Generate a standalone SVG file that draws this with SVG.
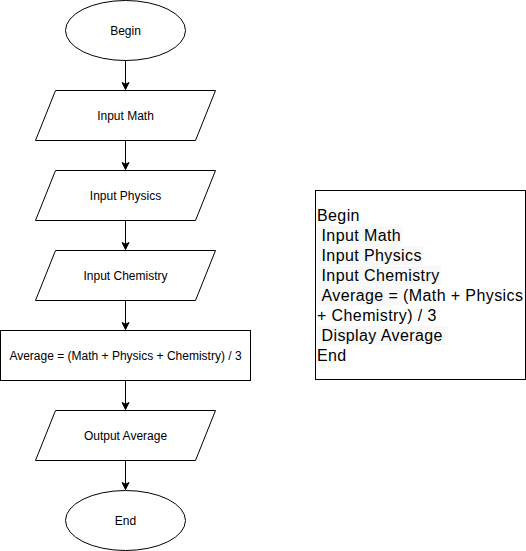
<svg xmlns="http://www.w3.org/2000/svg" width="526" height="551" viewBox="0 0 526 551">
<style>
.s{fill:#fff;stroke:#000;stroke-width:1}
.t{font-family:"Liberation Sans",Arial,sans-serif;font-size:12px;fill:#000;text-anchor:middle;dominant-baseline:central}
.c{stroke:#000;stroke-width:1;fill:none}
.p{font-family:"Liberation Sans",Arial,sans-serif;font-size:16px;letter-spacing:0.4px;fill:#000}
.h{fill:#f8f8f8}
</style>
<defs>
<marker id="a" markerWidth="10" markerHeight="10" refX="8" refY="5" orient="auto" markerUnits="userSpaceOnUse">
<path d="M1,1.5 L8,5 L1,8.5 L2.8,5 Z" fill="#000" stroke="#000" stroke-width="1"/>
</marker>
</defs>
<rect width="526" height="551" fill="#fff"/>
<g id="connectors">
<path class="c" d="M125.5,60.5 V89.5" marker-end="url(#a)"/>
<path class="c" d="M125.5,140.5 V169.5" marker-end="url(#a)"/>
<path class="c" d="M125.5,220.5 V249.5" marker-end="url(#a)"/>
<path class="c" d="M125.5,300.5 V329.5" marker-end="url(#a)"/>
<path class="c" d="M125.5,380.5 V409.5" marker-end="url(#a)"/>
<path class="c" d="M125.5,460.5 V489.5" marker-end="url(#a)"/>
</g>
<g id="begin"><ellipse class="s" cx="125.5" cy="30.5" rx="60" ry="30"/><text class="t" x="125.5" y="30.5">Begin</text></g>
<g id="input-math"><path class="s" d="M55.5,90.5 H215.5 L195.5,140.5 H35.5 Z"/><text class="t" x="125.5" y="115.5">Input Math</text></g>
<g id="input-physics"><path class="s" d="M55.5,170.5 H215.5 L195.5,220.5 H35.5 Z"/><text class="t" x="125.5" y="195.5">Input Physics</text></g>
<g id="input-chemistry"><path class="s" d="M55.5,250.5 H215.5 L195.5,300.5 H35.5 Z"/><text class="t" x="125.5" y="275.5">Input Chemistry</text></g>
<g id="average"><rect class="s" x="0.5" y="330.5" width="250" height="50"/><text class="t" x="125.5" y="355.5">Average = (Math + Physics + Chemistry) / 3</text></g>
<g id="output-average"><path class="s" d="M55.5,410.5 H215.5 L195.5,460.5 H35.5 Z"/><text class="t" x="125.5" y="435.5">Output Average</text></g>
<g id="end"><ellipse class="s" cx="125.5" cy="520.5" rx="60" ry="30"/><text class="t" x="125.5" y="520.5">End</text></g>
<g id="pseudocode">
<rect class="s" x="315.5" y="190.5" width="210" height="189"/>
<rect class="h" x="317" y="226" width="85" height="19"/>
<rect class="h" x="317" y="246" width="106" height="19"/>
<rect class="h" x="317" y="266" width="124" height="19"/>
<rect class="h" x="317" y="286" width="86" height="19"/>
<rect class="h" x="317" y="326" width="131" height="19"/>
<text class="p" x="317" y="221">Begin</text>
<text class="p" x="321.5" y="241">Input Math</text>
<text class="p" x="321.5" y="261">Input Physics</text>
<text class="p" x="321.5" y="281">Input Chemistry</text>
<text class="p" x="321.5" y="301">Average = (Math + Physics</text>
<text class="p" x="317" y="321">+ Chemistry) / 3</text>
<text class="p" x="321.5" y="341">Display Average</text>
<text class="p" x="317" y="361">End</text>
</g>
</svg>
